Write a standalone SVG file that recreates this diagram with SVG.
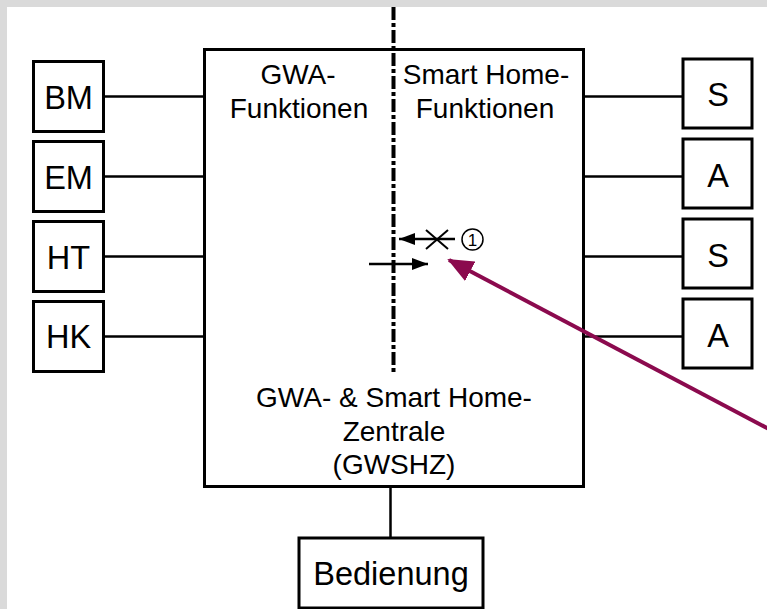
<svg xmlns="http://www.w3.org/2000/svg" width="767" height="609" viewBox="0 0 767 609">
<style>
.box{fill:#fff;stroke:#000;stroke-width:3}
.ln{stroke:#000;stroke-width:2.5;fill:none}
.t{font-family:"Liberation Sans",Arial,sans-serif;fill:#000;text-anchor:middle}
.big{font-size:32.5px}
.mid{font-size:28px}
</style>
<defs>
<marker id="ah" markerWidth="16" markerHeight="12" refX="16" refY="6" orient="auto" markerUnits="userSpaceOnUse">
<path d="M0,0 L16,6 L0,12 Z" fill="#000"/>
</marker>
<marker id="ahr" markerWidth="26" markerHeight="22" refX="24" refY="11" orient="auto" markerUnits="userSpaceOnUse">
<path d="M0,0 L26,11 L0,22 Z" fill="#8b0a4e"/>
</marker>
</defs>
<rect x="0" y="0" width="767" height="609" fill="#fff"/>
<rect x="0" y="0" width="767" height="7" fill="#dadada"/>
<rect x="0" y="0" width="7" height="609" fill="#dadada"/>

<g id="connectors">
<line class="ln" x1="103.5" y1="96.5" x2="204.5" y2="96.5"/>
<line class="ln" x1="103.5" y1="176.5" x2="204.5" y2="176.5"/>
<line class="ln" x1="103.5" y1="256.5" x2="204.5" y2="256.5"/>
<line class="ln" x1="103.5" y1="336.5" x2="204.5" y2="336.5"/>
<line class="ln" x1="583.5" y1="96.5" x2="683" y2="96.5"/>
<line class="ln" x1="583.5" y1="176.5" x2="683" y2="176.5"/>
<line class="ln" x1="583.5" y1="256.5" x2="683" y2="256.5"/>
<line class="ln" x1="583.5" y1="336.5" x2="683" y2="336.5"/>
<line class="ln" x1="390.5" y1="486" x2="390.5" y2="538"/>
</g>

<g id="GWSHZ">
<rect class="box" x="204.5" y="49.5" width="379" height="437"/>
<text class="t mid" x="298" y="84">GWA-</text>
<text class="t mid" x="299" y="118">Funktionen</text>
<text class="t mid" x="486" y="84">Smart Home-</text>
<text class="t mid" x="485" y="118">Funktionen</text>
<text class="t mid" x="394" y="407">GWA- &amp; Smart Home-</text>
<text class="t mid" x="394" y="441">Zentrale</text>
<text class="t mid" x="394" y="474">(GWSHZ)</text>
</g>

<g id="separator">
<line x1="393.5" y1="7" x2="393.5" y2="372" stroke="#000" stroke-width="4" stroke-dasharray="13 3 4 3"/>
<line class="ln" x1="455" y1="239" x2="399" y2="239" marker-end="url(#ah)"/>
<line stroke="#000" stroke-width="2" x1="426" y1="230" x2="448" y2="249"/>
<line stroke="#000" stroke-width="2" x1="426" y1="249" x2="448" y2="230"/>
<circle cx="472.5" cy="239.5" r="10.5" fill="none" stroke="#000" stroke-width="1.5"/>
<text class="t" x="472.5" y="245.5" font-size="17">1</text>
<line class="ln" x1="369" y1="264" x2="428" y2="264" marker-end="url(#ah)"/>
</g>

<g id="BM"><rect class="box" x="33.5" y="61.5" width="70" height="70"/><text class="t big" x="68.5" y="108.5">BM</text></g>
<g id="EM"><rect class="box" x="33.5" y="141.5" width="70" height="70"/><text class="t big" x="68.5" y="188.5">EM</text></g>
<g id="HT"><rect class="box" x="33.5" y="221.5" width="70" height="70"/><text class="t big" x="68.5" y="268.5">HT</text></g>
<g id="HK"><rect class="box" x="33.5" y="301.5" width="70" height="70"/><text class="t big" x="68.5" y="348">HK</text></g>

<g id="S1"><rect class="box" x="683" y="59" width="69" height="69"/><text class="t big" x="718" y="106">S</text></g>
<g id="A1"><rect class="box" x="683" y="139" width="69" height="69"/><text class="t big" x="718" y="186.5">A</text></g>
<g id="S2"><rect class="box" x="683" y="219" width="69" height="69"/><text class="t big" x="718" y="266.5">S</text></g>
<g id="A2"><rect class="box" x="683" y="299" width="69" height="69"/><text class="t big" x="718" y="346.5">A</text></g>

<g id="Bedienung"><rect class="box" x="299" y="538" width="184" height="70"/><text class="t big" x="391" y="585">Bedienung</text></g>

<g id="pointer">
<line x1="770" y1="429.6" x2="449" y2="260" stroke="#8b0a4e" stroke-width="4" marker-end="url(#ahr)"/>
</g>
</svg>
